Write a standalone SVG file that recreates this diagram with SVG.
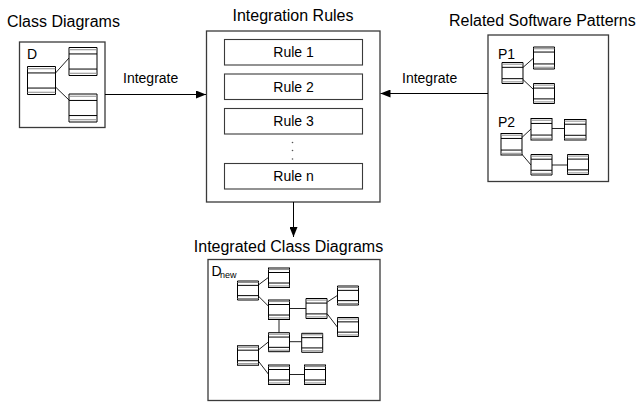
<svg xmlns="http://www.w3.org/2000/svg" xmlns:xlink="http://www.w3.org/1999/xlink" width="638" height="403" viewBox="0 0 638 403">
  <style>
    text { font-family: "Liberation Sans", Arial, sans-serif; fill: #000; }
    .title { font-size: 16px; }
    .label { font-size: 14px; }
    .rule-text { font-size: 14px; text-anchor: middle; }
    .frame { fill: #fff; stroke: #3a3a3a; stroke-width: 1.3; }
    .rule { fill: #fff; stroke: #3a3a3a; stroke-width: 1.1; }
    .link { fill: none; stroke: #000; stroke-width: 1; }
    .assoc { fill: none; stroke: #222; stroke-width: 1; }
  </style>
  <defs>
    <marker id="arrow" viewBox="0 0 10 8" refX="10" refY="4" markerWidth="10" markerHeight="8" markerUnits="userSpaceOnUse" orient="auto">
      <path d="M0,0 L10,4 L0,8 Z" fill="#000"/>
    </marker>
    <!-- UML class glyph: box with name and operation compartments -->
    <symbol id="cls" viewBox="0 0 20 20" preserveAspectRatio="none" style="overflow:visible">
      <rect x="0" y="0" width="20" height="20" fill="#fff" stroke="#000" stroke-width="1" vector-effect="non-scaling-stroke"/>
      <line x1="0" y1="1.6" x2="20" y2="1.6" stroke="#8a8a8a" stroke-width="1" vector-effect="non-scaling-stroke"/>
      <line x1="0" y1="4.6" x2="20" y2="4.6" stroke="#000" stroke-width="1" vector-effect="non-scaling-stroke"/>
      <line x1="0" y1="15.4" x2="20" y2="15.4" stroke="#000" stroke-width="1" vector-effect="non-scaling-stroke"/>
      <line x1="0" y1="18.4" x2="20" y2="18.4" stroke="#8a8a8a" stroke-width="1" vector-effect="non-scaling-stroke"/>
    </symbol>
  </defs>

  <!-- Source class diagram -->
  <g id="class-diagrams">
    <text class="title" x="7" y="26.5">Class Diagrams</text>
    <rect class="frame" x="19.5" y="42" width="85.5" height="85.5"/>
    <text class="label" x="27" y="58.5">D</text>
    <path class="assoc" d="M55.5,73 L69,58 M55.5,87 L69,100"/>
    <use xlink:href="#cls" x="27.5" y="66.5" width="28" height="28"/>
    <use xlink:href="#cls" x="69" y="47.5" width="28" height="28"/>
    <use xlink:href="#cls" x="69" y="94" width="28" height="28"/>
  </g>

  <!-- Rule set -->
  <g id="integration-rules">
    <text class="title" x="293" y="21" text-anchor="middle">Integration Rules</text>
    <rect class="frame" x="206.5" y="31" width="173.5" height="171"/>
    <rect class="rule" x="224.5" y="39.5" width="138" height="25.5"/>
    <text class="rule-text" x="293.5" y="57">Rule 1</text>
    <rect class="rule" x="224.5" y="74" width="138" height="25.5"/>
    <text class="rule-text" x="293.5" y="91.5">Rule 2</text>
    <rect class="rule" x="224.5" y="108.5" width="138" height="25.5"/>
    <text class="rule-text" x="293.5" y="126">Rule 3</text>
    <circle cx="292.5" cy="142.5" r="0.8" fill="#555"/>
    <circle cx="292.5" cy="150.5" r="0.8" fill="#555"/>
    <circle cx="292.5" cy="159" r="0.8" fill="#555"/>
    <rect class="rule" x="224.5" y="163.5" width="138" height="25.5"/>
    <text class="rule-text" x="293.5" y="181">Rule n</text>
  </g>

  <!-- Pattern catalogue -->
  <g id="software-patterns">
    <text class="title" x="449" y="26">Related Software Patterns</text>
    <rect class="frame" x="488" y="35" width="120.5" height="146.5"/>
    <text class="label" x="498" y="58.5">P1</text>
    <path class="assoc" d="M522.7,67.7 L533.3,58.3 M522.7,79.3 L533.3,89.3"/>
    <use xlink:href="#cls" x="502" y="62.5" width="21" height="21"/>
    <use xlink:href="#cls" x="533.5" y="47" width="21" height="22"/>
    <use xlink:href="#cls" x="533.5" y="83.5" width="21" height="20"/>
    <text class="label" x="498" y="126.5">P2</text>
    <path class="assoc" d="M521.7,137.7 L531,129 M521.7,154 L531,165 M552,128.5 L564,128.5 M552,165 L567.5,165"/>
    <use xlink:href="#cls" x="501" y="133.5" width="21" height="21.5"/>
    <use xlink:href="#cls" x="531" y="118.5" width="21" height="21.5"/>
    <use xlink:href="#cls" x="564.5" y="119.5" width="21.5" height="20.5"/>
    <use xlink:href="#cls" x="531" y="154.5" width="21" height="20.5"/>
    <use xlink:href="#cls" x="567.5" y="154.5" width="21" height="20"/>
  </g>

  <!-- Resulting class diagram -->
  <g id="integrated-class-diagrams">
    <text class="title" x="288.5" y="251.5" text-anchor="middle">Integrated Class Diagrams</text>
    <rect class="frame" x="208" y="259.5" width="172" height="141"/>
    <text x="211.5" y="276" font-size="14">D</text>
    <text x="220" y="278" font-size="9">new</text>
    <path class="assoc" d="M258.3,285 L268.3,277.5 M258.3,296 L268.3,306 M289.3,308.5 L306,308.5 M327.3,302 L337.3,295.5 M327.3,314 L337.3,327 M279,319.3 L279,332.7 M289.3,341.7 L301.7,341.7 M258.3,350 L268.3,342 M258.3,361 L268.3,374 M289.3,374.5 L304.3,374.5"/>
    <use xlink:href="#cls" x="237.5" y="281" width="21" height="19"/>
    <use xlink:href="#cls" x="268.5" y="268" width="21" height="19.5"/>
    <use xlink:href="#cls" x="268.5" y="300" width="21" height="19.5"/>
    <use xlink:href="#cls" x="306" y="298.5" width="21" height="20"/>
    <use xlink:href="#cls" x="337.5" y="286" width="21" height="19"/>
    <use xlink:href="#cls" x="337.5" y="317.5" width="21" height="19"/>
    <use xlink:href="#cls" x="268.5" y="332.7" width="21" height="19"/>
    <use xlink:href="#cls" x="301.7" y="333.3" width="21" height="19"/>
    <use xlink:href="#cls" x="237.5" y="345.7" width="21" height="19.5"/>
    <use xlink:href="#cls" x="268.5" y="365" width="21" height="19.5"/>
    <use xlink:href="#cls" x="304.5" y="365" width="21" height="19.5"/>
  </g>

  <!-- Connectors -->
  <g id="connectors">
    <line class="link" x1="105" y1="94.5" x2="206" y2="94.5" marker-end="url(#arrow)"/>
    <text class="label" x="123" y="83">Integrate</text>
    <line class="link" x1="488" y1="93.5" x2="380.5" y2="93.5" marker-end="url(#arrow)"/>
    <text class="label" x="402" y="83">Integrate</text>
    <line class="link" x1="293.5" y1="202" x2="293.5" y2="237" marker-end="url(#arrow)"/>
  </g>
</svg>
